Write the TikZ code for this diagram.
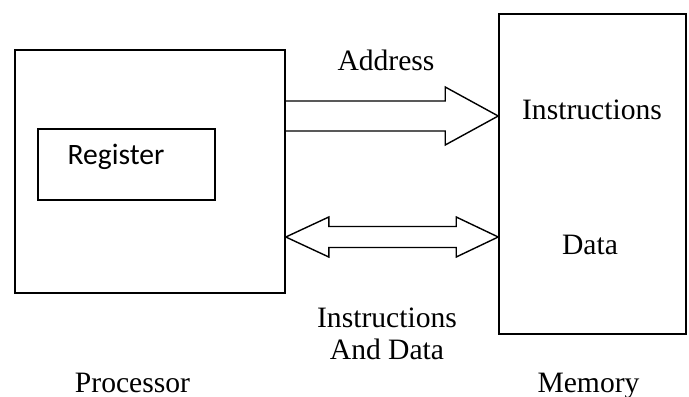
\documentclass[tikz,border=0pt]{standalone}
\usepackage{fontspec}
\setmainfont{Liberation Serif}
\newfontfamily\regfont{Carlito}
\usetikzlibrary{calc}

\begin{document}
\begin{tikzpicture}[x=0.5pt, y=-0.5pt,
    box/.style={draw, line width=0.8pt, inner sep=0pt},
    lbl/.style={font=\fontsize{14.8}{16}\selectfont, inner sep=0pt},
    fat/.style={draw, line width=0.7pt, line join=miter}]
    \useasboundingbox (0,0) rectangle (689,396);
    \node[box, minimum width=135pt, minimum height=121.5pt] (proc) at (150, 171.5) {};
    \node[box, minimum width=88.5pt, minimum height=35.5pt] (reg) at (126.5, 164.5) {};
    \node[box, minimum width=93.5pt, minimum height=160pt] (mem) at (592.5, 174) {};
    \node[lbl, font=\regfont\fontsize{14.8}{16}\selectfont] (regtxt) at (116, 157) {Register};
    \node[lbl] (ins) at (592, 110) {Instructions};
    \node[lbl] (dat) at (590, 245) {Data};
    \node[lbl] (addr) at (386, 60) {Address};
    \node[lbl, align=center] (insdat) at (387, 334) {Instructions\\ And Data};
    \node[lbl, anchor=base] (proclbl) at (132.5, 392) {Processor};
    \node[lbl, anchor=base] (memlbl) at (588.5, 392) {Memory};
    % address bus
    \coordinate (a0) at (proc.east |- 0,116);
    \coordinate (a1) at (mem.west |- 0,116);
    \draw[fat] ($(a0)+(0,-15)$) -- ($(a1)+(-53,-15)$) -- ($(a1)+(-53,-29)$) -- (a1)
        -- ($(a1)+(-53,29)$) -- ($(a1)+(-53,15)$) -- ($(a0)+(0,15)$);
    % data bus
    \coordinate (d0) at (proc.east |- 0,237);
    \coordinate (d1) at (mem.west |- 0,237);
    \draw[fat] (d0) -- ($(d0)+(43,-20)$) -- ($(d0)+(43,-10.5)$) -- ($(d1)+(-42,-10.5)$)
        -- ($(d1)+(-42,-20)$) -- (d1) -- ($(d1)+(-42,20)$) -- ($(d1)+(-42,10.5)$)
        -- ($(d0)+(43,10.5)$) -- ($(d0)+(43,20)$) -- cycle;
  \end{tikzpicture}
\end{document}
